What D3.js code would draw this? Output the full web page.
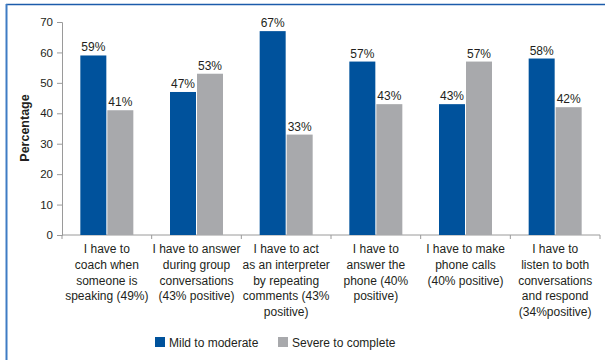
<!DOCTYPE html>
<html>
<head>
<meta charset="utf-8">
<script src="https://cdn.jsdelivr.net/npm/d3@7"></script>
<style>
  html, body { margin: 0; padding: 0; background: #fff; }
  svg { display: block; font-family: "Liberation Sans", Arial, sans-serif; }
</style>
</head>
<body>
<svg id="chart" width="605" height="360"></svg>
<script>
// Category labels (line breaks mark wrapped lines)
const categories = [
  "I have to\ncoach when\nsomeone is\nspeaking (49%)",
  "I have to answer\nduring group\nconversations\n(43% positive)",
  "I have to act\nas an interpreter\nby repeating\ncomments (43%\npositive)",
  "I have to\nanswer the\nphone (40%\npositive)",
  "I have to make\nphone calls\n(40% positive)",
  "I have to\nlisten to both\nconversations\nand respond\n(34%positive)"
];
const seriesNames = ["Mild to moderate", "Severe to complete"];
const mildValues = [59, 47, 67, 57, 43, 58];
const severeValues = [41, 53, 33, 43, 57, 42];
const yTicks = [0, 10, 20, 30, 40, 50, 60, 70];

const colors = ["#00529c", "#a8a9ac"];
const textColor = "#231f20";
const axisColor = "#9a9a9a";

const svg = d3.select("#chart");

// Outer frame (top and left edges)
svg.append("line").attr("x1", 6).attr("x2", 605).attr("y1", 4.5).attr("y2", 4.5)
  .attr("stroke", "#1c5cab").attr("stroke-width", 1.6);
svg.append("line").attr("x1", 6.5).attr("x2", 6.5).attr("y1", 4).attr("y2", 360)
  .attr("stroke", "#3f7cc4").attr("stroke-width", 2);

const x = d3.scaleBand().domain(d3.range(categories.length)).range([62, 600]).paddingInner(0).paddingOuter(0);
const y = d3.scaleLinear().domain([0, 70]).range([235, 22]);
const barW = 26, barGap = 1;

// Y axis
const yAxis = svg.append("g").attr("transform", "translate(62,0)")
  .call(d3.axisLeft(y).tickValues(yTicks).tickSize(5).tickPadding(4).tickFormat(d3.format("d")));
yAxis.select(".domain").attr("stroke", axisColor);
yAxis.selectAll(".tick line").attr("stroke", axisColor);
yAxis.selectAll(".tick text").attr("fill", textColor).style("font-size", "11.5px")
  .style("font-family", "'Liberation Sans', Arial, sans-serif");

// X axis (band boundaries carry the ticks)
const xAxis = svg.append("g").attr("transform", "translate(0,235)");
xAxis.append("line").attr("x1", 62).attr("x2", 600).attr("stroke", axisColor);
const bounds = d3.range(categories.length + 1).map(i => i < categories.length ? x(i) : x(categories.length - 1) + x.bandwidth());
xAxis.selectAll("line.t").data(bounds).join("line").attr("class", "t")
  .attr("x1", d => d).attr("x2", d => d).attr("y1", 0).attr("y2", 4).attr("stroke", axisColor);

// Y axis title
svg.append("text").attr("transform", "translate(29,128) rotate(-90)")
  .attr("text-anchor", "middle").attr("fill", textColor)
  .style("font-size", "12.5px").style("font-weight", "bold").text("Percentage");

// Bars and value labels
const series = [mildValues, severeValues];
series.forEach((vals, s) => {
  const g = svg.append("g");
  const xPos = i => x(i) + x.bandwidth() / 2 - barW - barGap / 2 + s * (barW + barGap);
  g.selectAll("rect").data(vals).join("rect")
    .attr("x", (d, i) => xPos(i)).attr("width", barW)
    .attr("y", d => y(d)).attr("height", d => y(0) - y(d))
    .attr("fill", colors[s]);
  g.selectAll("text").data(vals).join("text")
    .attr("x", (d, i) => xPos(i) + barW / 2).attr("y", d => y(d) - 4)
    .attr("text-anchor", "middle").attr("fill", textColor)
    .style("font-size", "12px").text(d => d + "%");
});

// Category labels
const catG = svg.append("g");
categories.forEach((c, i) => {
  const t = catG.append("text").attr("x", x(i) + x.bandwidth() / 2).attr("y", 253)
    .attr("text-anchor", "middle").attr("fill", textColor).style("font-size", "12px");
  c.split("\n").forEach((line, k) => {
    t.append("tspan").attr("x", x(i) + x.bandwidth() / 2).attr("y", 253 + k * 15.8).text(line);
  });
});

// Legend
const legend = svg.append("g");
const legendX = [155, 278];
seriesNames.forEach((name, s) => {
  legend.append("rect").attr("x", legendX[s]).attr("y", 337).attr("width", 10).attr("height", 10).attr("fill", colors[s]);
  legend.append("text").attr("x", legendX[s] + 14).attr("y", 346.5).attr("fill", textColor)
    .style("font-size", "12px").text(name);
});
</script>
</body>
</html>
